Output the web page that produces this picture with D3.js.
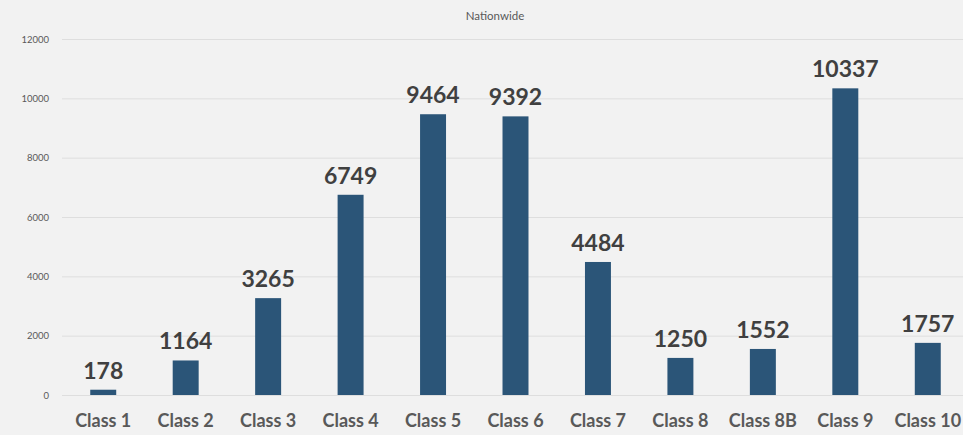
<!DOCTYPE html>
<html>
<head>
<meta charset="utf-8">
<script src="https://cdn.jsdelivr.net/npm/d3@7"></script>
<style>
  body { margin: 0; background: #f2f2f2; }
  svg { display: block; font-family: Lato, "Open Sans", sans-serif; }
</style>
</head>
<body>
<div id="chart"></div>
<script>
var classes = ["Class 1", "Class 2", "Class 3", "Class 4", "Class 5", "Class 6",
               "Class 7", "Class 8", "Class 8B", "Class 9", "Class 10"];
var counts = [178, 1164, 3265, 6749, 9464, 9392, 4484, 1250, 1552, 10337, 1757];
var yTicks = [0, 2000, 4000, 6000, 8000, 10000, 12000];

var width = 963, height = 435;
var margin = {top: 39, right: -6, bottom: 40, left: 62};

var svg = d3.select("#chart")
            .append("svg")
            .attr("width", width)
            .attr("height", height);

svg.append("rect")
   .attr("width", width)
   .attr("height", height)
   .attr("fill", "#f2f2f2");

var x = d3.scaleBand()
          .domain(classes)
          .range([margin.left, width - margin.right])
          .paddingInner(0.685)
          .paddingOuter(0.3425);

var y = d3.scaleLinear()
          .domain([0, 12000])
          .range([height - margin.bottom, margin.top]);

// gridlines + y labels
var yAxis = svg.append("g")
   .attr("transform", "translate(" + margin.left + ",0)")
   .call(d3.axisLeft(y)
           .tickValues(yTicks)
           .tickSize(-(width - margin.left - margin.right))
           .tickPadding(13)
           .tickFormat(d3.format("d")));

yAxis.select(".domain").remove();
yAxis.selectAll(".tick line").attr("stroke", "#dedede").attr("stroke-width", 1);
yAxis.selectAll(".tick text")
     .attr("fill", "#595959")
     .attr("font-size", "9.5px")
     .attr("font-family", "Lato, sans-serif");

// bars
svg.append("g")
   .selectAll("rect")
   .data(counts)
   .enter().append("rect")
   .attr("x", function(d, i) { return x(classes[i]); })
   .attr("y", function(d) { return y(d); })
   .attr("width", x.bandwidth())
   .attr("height", function(d) { return y(0) - y(d); })
   .attr("fill", "#2b5578");

// value labels
svg.append("g")
   .selectAll("text")
   .data(counts)
   .enter().append("text")
   .attr("x", function(d, i) { return x(classes[i]) + x.bandwidth() / 2; })
   .attr("y", function(d) { return y(d) - 11; })
   .attr("text-anchor", "middle")
   .attr("font-size", "23px")
   .attr("font-weight", "bold")
   .attr("fill", "#404040")
   .text(function(d) { return d; });

// x axis labels
var xAxis = svg.append("g")
   .attr("transform", "translate(0," + y(0) + ")")
   .call(d3.axisBottom(x).tickSize(0).tickPadding(32));

xAxis.select(".domain").remove();
xAxis.selectAll(".tick text")
     .attr("fill", "#595959")
     .attr("font-size", "18px")
     .attr("font-weight", "bold")
     .attr("font-family", "Lato, sans-serif")
     .attr("dy", "0");

// title
svg.append("text")
   .attr("x", 495)
   .attr("y", 20)
   .attr("text-anchor", "middle")
   .attr("font-size", "11.5px")
   .attr("fill", "#595959")
   .text("Nationwide");
</script>
</body>
</html>
